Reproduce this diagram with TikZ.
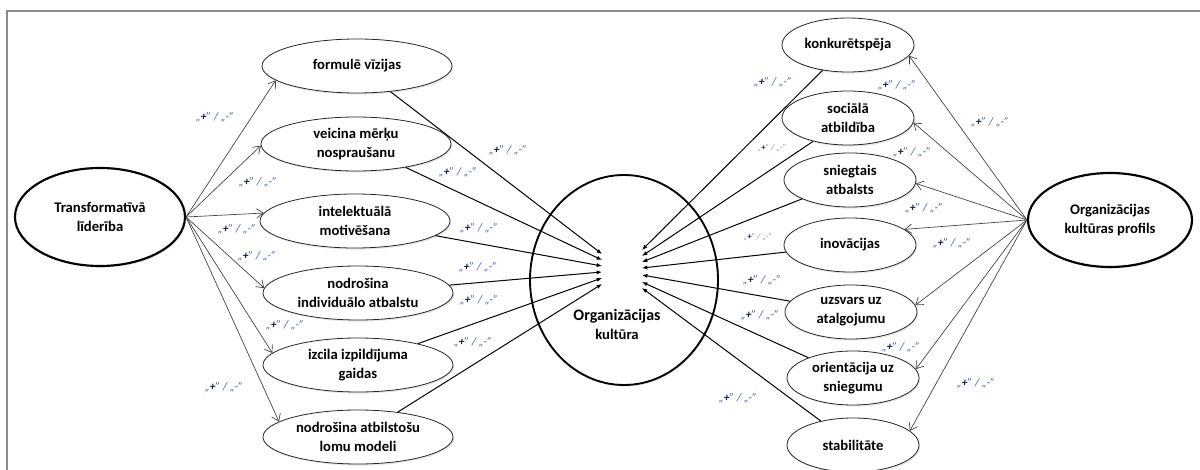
\documentclass[tikz,border=0pt]{standalone}
\usepackage{fontspec}
\setmainfont{Carlito}
\usetikzlibrary{shapes.geometric,arrows.meta,shadows}

\definecolor{framegray}{RGB}{140,140,140}
\definecolor{signblue}{RGB}{60,90,160}
\definecolor{signfaint}{RGB}{120,140,190}
\definecolor{signdark}{RGB}{20,30,70}

% sign of a relation: „+” / „-”
\newcommand{\relsign}{„\textcolor{signdark}{\bfseries +}” / „-”}

\begin{document}
\begin{tikzpicture}[x=0.75pt,y=-0.75pt,
  every node/.style={font=\fontsize{11}{14.3}\selectfont\bfseries, align=center},
  soft/.style={drop shadow={opacity=0.18, shadow xshift=0.8pt, shadow yshift=-1.2pt}},
  item/.style={ellipse, draw=black!85, line width=0.6pt, fill=white, inner sep=0pt,
    minimum width=142.5pt, minimum height=40.5pt, soft},
  ritem/.style={item, minimum width=99pt, minimum height=40.5pt},
  major/.style={ellipse, draw=black, line width=1.6pt, fill=white, inner sep=0pt, soft},
  fan/.style={draw=black!75, line width=0.5pt, -{Straight Barb[length=5pt,width=7pt]}},
  feed/.style={draw=black, line width=0.75pt, -{Latex[length=4pt,width=3.2pt]}},
  sign/.style={font=\fontsize{8.6}{9}\selectfont\itshape\mdseries, text=signblue, inner sep=0pt},
  faintsign/.style={sign, font=\fontsize{6.5}{7}\selectfont\itshape\mdseries, text=signfaint}
]
\useasboundingbox (0,0) rectangle (1200,470);
\fill[white] (0,0) rectangle (1200,470);

% page frame
\draw[framegray, line width=1.5pt] (7,470) -- (7,11) -- (1200,11);

% main constructs
\node[major, minimum width=127.5pt, minimum height=73.5pt] (tl) at (100,217) {Transformatīvā\\līderība};
\node[major, minimum width=141pt, minimum height=157.5pt, line width=1.4pt] (ok) at (624,280) {};
\node (okt) at (617,324) {\fontsize{12}{18}\selectfont Organizācijas\\kultūra};
\node[major, minimum width=123pt, minimum height=70.5pt] (pr) at (1110,220) {Organizācijas\\kultūras profils};

% leadership dimensions
\node[item] (fv) at (357,66)  {formulē vīzijas};
\node[item] (vm) at (356,144) {veicina mērķu\\nospraušanu};
\node[item] (im) at (355,221) {intelektuālā\\motivēšana};
\node[item] (ia) at (358,293) {nodrošina\\individuālo atbalstu};
\node[item] (ig) at (358,365) {izcila izpildījuma\\gaidas};
\node[item] (lm) at (358,437) {nodrošina atbilstošu\\lomu modeli};

% culture profile dimensions
\node[ritem] (ko) at (848,45)  {konkurētspēja};
\node[ritem] (sa) at (848,118) {sociālā\\atbildība};
\node[ritem] (sn) at (850,180) {sniegtais\\atbalsts};
\node[ritem] (in) at (850,245) {inovācijas};
\node[ritem] (uz) at (851,312) {uzsvars uz\\atalgojumu};
\node[ritem] (or) at (853,378) {orientācija uz\\sniegumu};
\node[ritem] (st) at (853,445) {stabilitāte};

% arrow ends inside the culture circle
\foreach \i/\y in {1/254,2/260,3/266,4/272,5/278,6/284}
  \coordinate (lt\i) at (602,\y);
\foreach \i/\y in {1/250,2/256,3/262,4/268,5/275,6/282,7/288}
  \coordinate (rt\i) at (642,\y);

% leadership -> dimensions
\draw[fan] (tl.east) -- (fv.190);
\draw[fan] (tl.east) -- (vm.181);
\draw[fan] (tl.east) -- (im.175);
\draw[fan] (tl.east) -- (ia.177);
\draw[fan] (tl.east) -- (ig.172);
\draw[fan] (tl.east) -- (lm.169);

% profile -> dimensions
\draw[fan] (pr.west) -- (ko.-10);
\draw[fan] (pr.west) -- (sa.-4);
\draw[fan] (pr.west) -- (sn.-3);
\draw[fan] (pr.west) -- (in.16);
\draw[fan] (pr.west) -- (uz.6);
\draw[fan] (pr.west) -- (or.8);
\draw[fan] (pr.west) -- (st.14);

% dimensions -> organisational culture
\draw[feed] (fv) -- (lt1);
\draw[feed] (vm) -- (lt2);
\draw[feed] (im) -- (lt3);
\draw[feed] (ia) -- (lt4);
\draw[feed] (ig) -- (lt5);
\draw[feed] (lm) -- (lt6);
\draw[feed] (ko) -- (rt1);
\draw[feed] (sa) -- (rt2);
\draw[feed] (sn) -- (rt3);
\draw[feed] (in) -- (rt4);
\draw[feed] (uz) -- (rt5);
\draw[feed] (or) -- (rt6);
\draw[feed] (st) -- (rt7);

% relation signs, left fan
\node[sign] (sl1) at (215,117) {\relsign};
\node[sign] (sl2) at (258,182) {\relsign};
\node[sign] (sl3) at (237,229) {\relsign};
\node[sign] (sl4) at (257,256) {\relsign};
\node[sign] (sl5) at (285,325) {\relsign};
\node[sign] (sl6) at (224,387) {\relsign};

% relation signs, into the culture circle
\node[sign] (sc1) at (508,150) {\relsign};
\node[sign] (sc2) at (458,172) {\relsign};
\node[sign] (sc3) at (479,228) {\relsign};
\node[sign] (sc4) at (478,267) {\relsign};
\node[sign] (sc5) at (479,300) {\relsign};
\node[sign] (sc6) at (473,342) {\relsign};
\node[sign] (sr1) at (773,82)  {\relsign};
\node[faintsign] (sr2) at (772,148) {\relsign};
\node[faintsign] (sr3) at (758,237) {\relsign};
\node[sign] (sr4) at (762,280) {\relsign};
\node[sign] (sr5) at (760,315) {\relsign};
\node[sign] (sr6) at (738,398) {\relsign};

% relation signs, profile fan
\node[sign] (sp1) at (990,122) {\relsign};
\node[sign] (sp2) at (897,85)  {\relsign};
\node[sign] (sp3) at (912,152) {\relsign};
\node[sign] (sp4) at (924,208) {\relsign};
\node[sign] (sp5) at (952,243) {\relsign};
\node[sign] (sp6) at (901,347) {\relsign};
\node[sign] (sp7) at (976,383) {\relsign};
\end{tikzpicture}
\end{document}
